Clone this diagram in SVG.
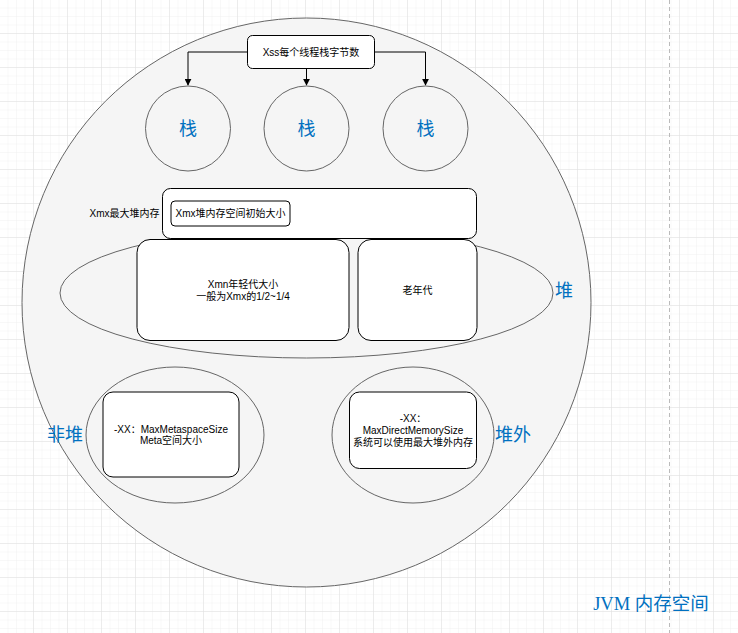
<svg xmlns="http://www.w3.org/2000/svg" width="738" height="633" viewBox="0 0 738 633">
<defs>
<pattern id="minor" x="0" y="0" width="8.5" height="8.5" patternUnits="userSpaceOnUse">
<path d="M8.5 0V8.5M0 8.5H8.5" fill="none" stroke="#f1f1f1" stroke-width="1"/>
</pattern>
<pattern id="major" x="0" y="0" width="34" height="34" patternUnits="userSpaceOnUse">
<path d="M34 0V34M0 34H34" fill="none" stroke="#e0e0e0" stroke-width="1"/>
</pattern>
<marker id="arr" viewBox="0 0 10 10" refX="9" refY="5" markerWidth="7" markerHeight="7" orient="auto" markerUnits="userSpaceOnUse">
<path d="M0 0L10 5L0 10Z" fill="#000"/>
</marker>
</defs>
<style>
.bg{fill:#f5f5f5;stroke:#666;stroke-width:1}
.ell{fill:none;stroke:#666;stroke-width:1}
.box{fill:#fff;stroke:#000;stroke-width:1}
.t{font-family:"Liberation Sans","Noto Sans CJK SC",sans-serif;font-size:10px;fill:#000;text-anchor:middle}
.b{font-family:"Liberation Sans","Noto Sans CJK SC",sans-serif;font-size:18px;fill:#0070C0;text-anchor:middle}
.c{fill:none;stroke:#000;stroke-width:1}
</style>
<rect width="738" height="633" fill="#fff"/>
<rect width="738" height="633" fill="url(#minor)"/>
<rect width="738" height="633" fill="url(#major)"/>
<line x1="669.5" y1="0" x2="669.5" y2="633" stroke="#bbb" stroke-dasharray="4 3"/>

<g id="jvm">
<ellipse class="bg" cx="306.5" cy="302.5" rx="284.5" ry="284.5"/>
</g>

<g id="heap">
<ellipse class="ell" cx="306.5" cy="293" rx="246.5" ry="65"/>
<text class="b" x="564" y="297">堆</text>
</g>

<g id="xss">
<rect class="box" x="247.5" y="35.5" width="127" height="33" rx="5"/>
<text class="t" x="311" y="56">Xss每个线程栈字节数</text>
</g>

<g id="stack1">
<circle class="ell" cx="188" cy="128.5" r="42.5"/>
<text class="b" x="188" y="135">栈</text>
</g>
<g id="stack2">
<circle class="ell" cx="306.5" cy="128.5" r="42.5"/>
<text class="b" x="306.5" y="135">栈</text>
</g>
<g id="stack3">
<circle class="ell" cx="425.5" cy="128.5" r="42.5"/>
<text class="b" x="425.5" y="135">栈</text>
</g>

<g id="xmx">
<rect class="box" x="162.5" y="188.5" width="314" height="50" rx="8"/>
<text class="t" x="124.5" y="217">Xmx最大堆内存</text>
</g>
<g id="xms">
<rect class="box" x="171" y="201" width="119" height="25" rx="4"/>
<text class="t" x="230.5" y="217">Xmx堆内存空间初始大小</text>
</g>

<g id="young">
<rect class="box" x="137" y="239.5" width="212" height="101" rx="13"/>
<text class="t" x="243" y="288">Xmn年轻代大小</text>
<text class="t" x="243" y="300">一般为Xmx的1/2~1/4</text>
</g>
<g id="old">
<rect class="box" x="358" y="239.5" width="119" height="101" rx="13"/>
<text class="t" x="417.5" y="294">老年代</text>
</g>

<g id="nonheap">
<ellipse class="ell" cx="175" cy="435" rx="89" ry="68"/>
<text class="b" x="65" y="441">非堆</text>
</g>
<g id="meta">
<rect class="box" x="103" y="392" width="136" height="85" rx="10"/>
<text class="t" x="171" y="433">-XX：MaxMetaspaceSize</text>
<text class="t" x="171" y="444">Meta空间大小</text>
</g>

<g id="offheap">
<ellipse class="ell" cx="413" cy="435" rx="81" ry="68"/>
<text class="b" x="513" y="441">堆外</text>
</g>
<g id="direct">
<rect class="box" x="349.5" y="392" width="127" height="76.5" rx="10"/>
<text class="t" x="413" y="422">-XX：</text>
<text class="t" x="413" y="434">MaxDirectMemorySize</text>
<text class="t" x="413" y="446">系统可以使用最大堆外内存</text>
</g>

<g id="title">
<text x="651" y="610" style="font-family:'Liberation Serif','Noto Sans CJK SC',serif;font-size:18.5px;fill:#0070C0;text-anchor:middle">JVM 内存空间</text>
</g>

<g id="connectors">
<path class="c" d="M247.5 52H188V85" marker-end="url(#arr)"/>
<path class="c" d="M306.5 68.5V85" marker-end="url(#arr)"/>
<path class="c" d="M374.5 52H425.5V85" marker-end="url(#arr)"/>
</g>
</svg>
